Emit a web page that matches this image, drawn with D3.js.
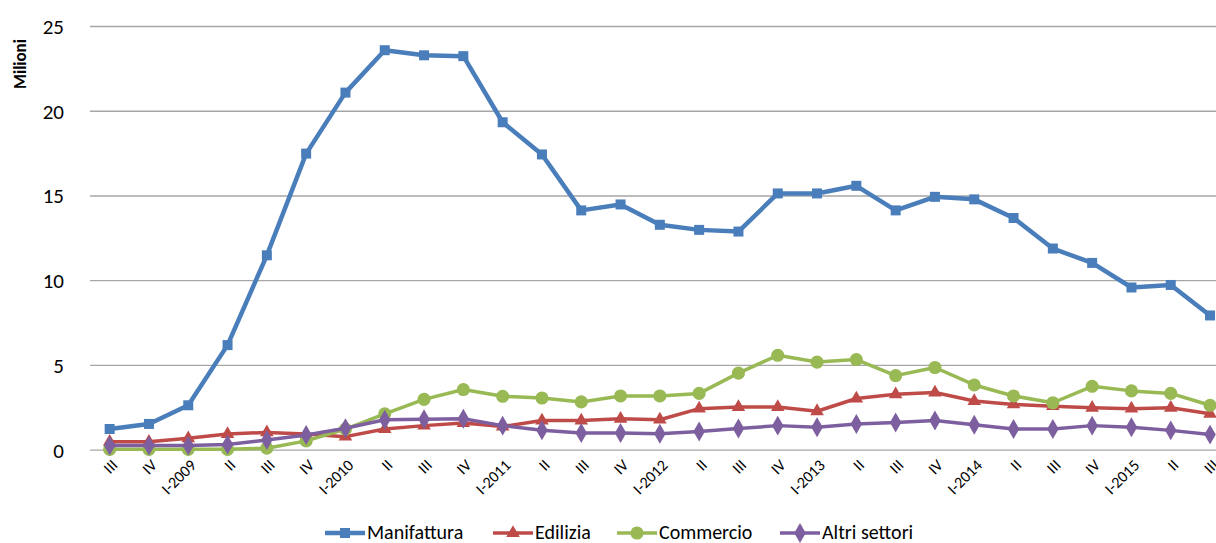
<!DOCTYPE html>
<html><head><meta charset="utf-8">
<script src="https://cdn.jsdelivr.net/npm/d3@7/dist/d3.min.js"></script>
<style>
html,body{margin:0;padding:0;background:#fff;overflow:hidden;}
text{font-family:Carlito,Calibri,Lato,sans-serif;fill:#000;}
</style></head>
<body><svg id="c" width="1216" height="543"></svg>
<script>
const categories = ["III","IV","I-2009","II","III","IV","I-2010","II","III","IV","I-2011","II","III","IV","I-2012","II","III","IV","I-2013","II","III","IV","I-2014","II","III","IV","I-2015","II","III"];
const manifattura = [1.25,1.55,2.65,6.2,11.5,17.5,21.1,23.6,23.3,23.25,19.35,17.45,14.15,14.5,13.3,13.0,12.9,15.15,15.15,15.6,14.15,14.95,14.8,13.7,11.9,11.05,9.6,9.75,7.95];
const edilizia = [0.5,0.5,0.7,0.95,1.05,0.95,0.8,1.25,1.45,1.6,1.4,1.75,1.75,1.85,1.8,2.45,2.55,2.55,2.3,3.05,3.3,3.4,2.9,2.7,2.6,2.5,2.45,2.5,2.15];
const commercio = [0.05,0.05,0.05,0.05,0.12,0.55,1.25,2.15,3.0,3.58,3.18,3.08,2.85,3.2,3.2,3.35,4.55,5.6,5.2,5.35,4.4,4.88,3.85,3.2,2.8,3.77,3.5,3.35,2.65];
const altri = [0.27,0.27,0.27,0.33,0.6,0.9,1.3,1.8,1.82,1.85,1.45,1.18,1.02,1.02,0.97,1.1,1.28,1.45,1.35,1.55,1.63,1.75,1.5,1.25,1.25,1.45,1.35,1.17,0.92];
const seriesNames = ["Manifattura","Edilizia","Commercio","Altri settori"];
const yTicks = [0,5,10,15,20,25];

const colors = ["#4A7EBB","#BE4B48","#98B954","#7D5FA0"];
const symbols = [d3.symbolSquare, d3.symbolTriangle, d3.symbolCircle, d3.symbolDiamond];
const symSizes = [100, 80, 135, 115];
const widths = [4.5, 3.5, 3.5, 3.5];
const series = [manifattura, edilizia, commercio, altri].map((v,i)=>({name:seriesNames[i], values:v}));

const svg = d3.select("#c");
const plotLeft = 90, plotTop = 26.5, plotBottom = 450.2, band = 39.3;
const x = d3.scalePoint().domain(d3.range(categories.length)).range([plotLeft, plotLeft + categories.length*band]).padding(0.5);
const y = d3.scaleLinear().domain([0,25]).range([plotBottom, plotTop]);

// gridlines
svg.append("g").selectAll("line").data(yTicks).join("line")
  .attr("x1", plotLeft).attr("x2", 1216)
  .attr("y1", d=>y(d)).attr("y2", d=>y(d))
  .attr("stroke", "#A6A6A6").attr("stroke-width", 1.3);

// y labels
svg.append("g").selectAll("text").data(yTicks).join("text")
  .attr("x", 64).attr("y", d=>y(d)).attr("dy","0.35em")
  .attr("text-anchor","end").style("font-size","21px").text(d=>d);

// y title
svg.append("text").attr("transform","translate(26,64) rotate(-90)")
  .attr("text-anchor","middle").style("font-size","17px").style("font-weight","bold").text("Milioni");

// x labels
svg.append("g").selectAll("text").data(categories).join("text")
  .attr("transform",(d,i)=>`translate(${x(i)+5},${plotBottom+12}) rotate(-45)`)
  .attr("text-anchor","end").attr("dy","0.35em").style("font-size","16px").text(d=>d);

// lines
const line = d3.line().x((d,i)=>x(i)).y(d=>y(d));
series.forEach((s,si)=>{
  const g = svg.append("g");
  g.append("path").attr("d", line(s.values)).attr("fill","none")
    .attr("stroke", colors[si]).attr("stroke-width", widths[si]).attr("stroke-linejoin","round");
  g.selectAll("path.m").data(s.values).join("path").attr("class","m")
    .attr("transform",(d,i)=>`translate(${x(i)},${y(d)})`)
    .attr("d", d3.symbol().type(symbols[si]).size(symSizes[si])())
    .attr("fill", colors[si]);
});

// legend
const legX = [325, 493, 617, 780];
const legY = 533;
series.forEach((s,si)=>{
  const g = svg.append("g").attr("transform",`translate(${legX[si]},${legY})`);
  g.append("line").attr("x1",0).attr("x2",40).attr("y1",0).attr("y2",0)
    .attr("stroke",colors[si]).attr("stroke-width",widths[si]);
  g.append("path").attr("transform","translate(20,0)")
    .attr("d", d3.symbol().type(symbols[si]).size(symSizes[si])()).attr("fill",colors[si]);
  g.append("text").attr("x",42).attr("dy","0.32em").style("font-size","20px").text(s.name);
});
</script></body></html>
